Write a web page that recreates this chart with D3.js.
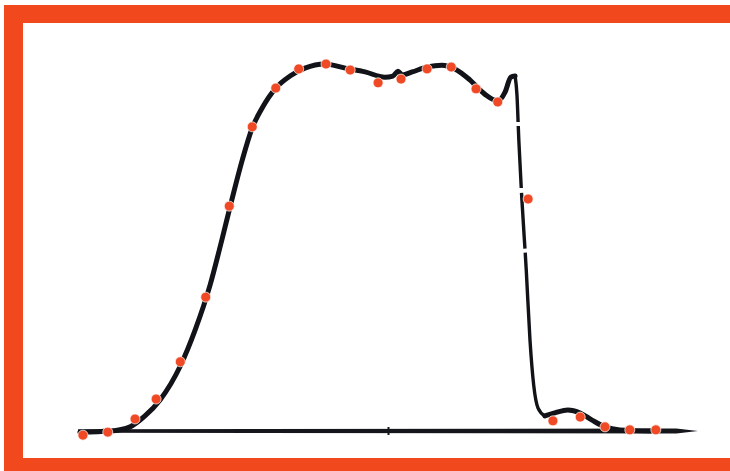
<!DOCTYPE html>
<html>
<head>
<meta charset="utf-8">
<script src="https://cdn.jsdelivr.net/npm/d3@7"></script>
<style>
  body { margin: 0; background: #fff; }
  svg { display: block; }
</style>
</head>
<body>
<div id="chart"></div>
<script>
// measured points (x in arbitrary units 0-100, y in percent)
var pointX = [0.8, 4.8, 9.2, 12.6, 16.5, 20.6, 24.4, 28.1, 31.9, 35.6, 40.0, 43.9,
  48.4, 52.1, 56.3, 60.2, 64.2, 67.7, 72.6, 76.6, 81.0, 85.0, 89.0, 93.2];
var pointY = [-1.1, -0.3, 3.2, 8.5, 18.4, 35.6, 59.8, 80.9, 91.2, 96.3, 97.6, 96.0,
  92.6, 93.6, 96.3, 96.8, 91.0, 87.5, 61.7, 2.7, 3.7, 1.1, 0.3, 0.3];

// fitted curve, rising part up to the peak
var riseX = [0.3, 5.2, 8.4, 10.8, 13.2, 16.5, 18.9, 21.3, 23.2, 24.8, 26.5, 28.1, 29.7,
  31.9, 34.2, 36.6, 39.8, 43.1, 46.3, 49.5, 50.8, 51.6, 52.3, 53.9, 56.3, 58.7, 60.8,
  63.2, 65.6, 67.7, 68.9, 69.8, 70.5];
var riseY = [-0.3, 0, 1.1, 4.0, 8.2, 17.3, 26.9, 38.8, 50.8, 61.4, 72.1, 80.6, 85.9,
  91.2, 94.4, 96.5, 97.6, 96.5, 95.5, 94.1, 94.4, 95.7, 94.7, 95.5, 96.8, 97.3, 96.3,
  93.4, 89.6, 87.8, 90.2, 94.1, 94.4];

// steep drop (broken line in the original)
var dropX = [70.5, 70.8, 71.1, 71.6, 72.3, 72.9, 73.5, 74.2, 75.3];
var dropY = [94.4, 89.4, 77.4, 61.4, 42.8, 24.2, 12.2, 6.1, 4.0];

// tail
var tailX = [75.3, 76.9, 79.0, 81.0, 82.9, 85.0, 87.4, 92.3];
var tailY = [4.0, 4.8, 5.6, 4.8, 2.9, 1.1, 0.3, 0];

var axisTicks = [50];

var width = 730;
var height = 471;
var red = "#f1491d";

var svg = d3.select("#chart")
  .append("svg")
  .attr("width", width)
  .attr("height", height);

// frame
svg.append("rect").attr("x", 4).attr("y", 5).attr("width", width - 4).attr("height", 18).attr("fill", red);
svg.append("rect").attr("x", 4).attr("y", 5).attr("width", 19).attr("height", height - 5).attr("fill", red);
svg.append("rect").attr("x", 4).attr("y", 458).attr("width", width - 4).attr("height", 13).attr("fill", red);

var x = d3.scaleLinear()
  .domain([0, 100])
  .range([78, 698]);

var y = d3.scaleLinear()
  .domain([0, 100])
  .range([431, 55]);

function zip(xs, ys) {
  return xs.map(function (v, i) { return [v, ys[i]]; });
}

// baseline with a tapered end
var y0 = y(0);
svg.append("path")
  .attr("fill", "#15161c")
  .attr("d", "M" + x(0) + "," + (y0 - 1.8) +
    "L" + x(96.5) + "," + (y0 - 2.4) +
    "L" + x(100) + "," + y0 +
    "L" + x(96.5) + "," + (y0 + 2.4) +
    "L" + x(0) + "," + (y0 + 1.8) + "Z");

svg.append("g")
  .attr("transform", "translate(0," + (y0 - 4) + ")")
  .call(d3.axisBottom(x).tickValues(axisTicks).tickSize(8).tickFormat(""))
  .call(function (g) { g.select(".domain").remove(); })
  .selectAll("line")
  .attr("stroke", "#15161c")
  .attr("stroke-width", 2);

var line = d3.line()
  .x(function (d) { return x(d[0]); })
  .y(function (d) { return y(d[1]); })
  .curve(d3.curveMonotoneX);

svg.append("path")
  .datum(zip(riseX, riseY))
  .attr("fill", "none")
  .attr("stroke", "#121318")
  .attr("stroke-width", 5)
  .attr("stroke-linecap", "round")
  .attr("stroke-linejoin", "round")
  .attr("d", line);

svg.append("path")
  .datum(zip(dropX, dropY))
  .attr("fill", "none")
  .attr("stroke", "#121318")
  .attr("stroke-width", 3.4)
  .attr("stroke-dasharray", "46,4,62,5,56,4,170,0")
  .attr("d", line);

svg.append("path")
  .datum(zip(tailX, tailY))
  .attr("fill", "none")
  .attr("stroke", "#121318")
  .attr("stroke-width", 5)
  .attr("stroke-linecap", "round")
  .attr("stroke-linejoin", "round")
  .attr("d", line);

svg.append("g")
  .selectAll("circle")
  .data(zip(pointX, pointY))
  .enter()
  .append("circle")
  .attr("cx", function (d) { return x(d[0]); })
  .attr("cy", function (d) { return y(d[1]); })
  .attr("r", 5)
  .attr("fill", "#ef4a25")
  .attr("stroke", "#fff")
  .attr("stroke-opacity", 0.7)
  .attr("stroke-width", 1);
</script>
</body>
</html>
